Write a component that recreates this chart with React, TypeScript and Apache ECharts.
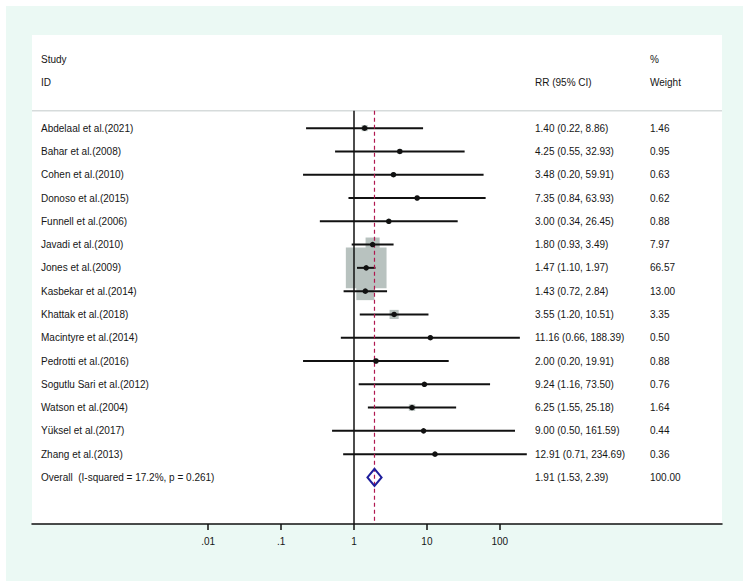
import React, { useEffect, useRef } from 'react';
import * as echarts from 'echarts';

// ---------- data ----------
const studies = [
  'Abdelaal et al.(2021)',
  'Bahar et al.(2008)',
  'Cohen et al.(2010)',
  'Donoso et al.(2015)',
  'Funnell et al.(2006)',
  'Javadi et al.(2010)',
  'Jones et al.(2009)',
  'Kasbekar et al.(2014)',
  'Khattak et al.(2018)',
  'Macintyre et al.(2014)',
  'Pedrotti et al.(2016)',
  'Sogutlu Sari et al.(2012)',
  'Watson et al.(2004)',
  'Yüksel et al.(2017)',
  'Zhang et al.(2013)',
];
const rr = [1.4, 4.25, 3.48, 7.35, 3.0, 1.8, 1.47, 1.43, 3.55, 11.16, 2.0, 9.24, 6.25, 9.0, 12.91];
const ciLow = [0.22, 0.55, 0.2, 0.84, 0.34, 0.93, 1.1, 0.72, 1.2, 0.66, 0.2, 1.16, 1.55, 0.5, 0.71];
const ciHigh = [8.86, 32.93, 59.91, 63.93, 26.45, 3.49, 1.97, 2.84, 10.51, 188.39, 19.91, 73.5, 25.18, 161.59, 234.69];
const weights = [1.46, 0.95, 0.63, 0.62, 0.88, 7.97, 66.57, 13.0, 3.35, 0.5, 0.88, 0.76, 1.64, 0.44, 0.36];

const overallLabel = 'Overall  (I-squared = 17.2%, p = 0.261)';
const overallRR = 1.91;
const overallLow = 1.53;
const overallHigh = 2.39;
const overallWeight = 100.0;

const tickValues = [0.01, 0.1, 1, 10, 100];
const tickLabels = ['.01', '.1', '1', '10', '100'];

// ---------- layout / style ----------
const FONT = '"Liberation Sans", Arial, Helvetica, sans-serif';
const TEXT_COLOR = '#161616';
const X_ONE = 354; // pixel of value 1
const DECADE = 72.9; // pixels per decade
const PANEL_L = 32;
const PANEL_R = 722;
const PANEL_T = 35;
const PANEL_B = 524;
const W = 749;
const H = 587;
const xMin = Math.pow(10, (PANEL_L - X_ONE) / DECADE);
const xMax = Math.pow(10, (PANEL_R - X_ONE) / DECADE);
const ROW_MIN = -4;
const ROW_MAX = 17;
const HEADER_ROW = -0.75;
const overallRow = studies.length;
const COL_NAME = 41;
const COL_RR = 535;
const COL_W = 650;

const fmt = (v: number) => v.toFixed(2);

function buildOption() {
  const squareData = rr.map((v, i) => [v, i, weights[i]]);
  const dotData = rr.map((v, i) => [v, i]);
  const ciData = rr.map((_, i) => [ciLow[i], ciHigh[i], i]);
  const textRows = studies.map((s, i) => ({
    name: s,
    rrText: `${fmt(rr[i])} (${fmt(ciLow[i])}, ${fmt(ciHigh[i])})`,
    wText: fmt(weights[i]),
  }));
  textRows.push({
    name: overallLabel,
    rrText: `${fmt(overallRR)} (${fmt(overallLow)}, ${fmt(overallHigh)})`,
    wText: fmt(overallWeight),
  });
  const textData = textRows.map((_, i) => [1, i]);

  const txt = (text: string, x: number, y: number) => ({
    type: 'text',
    x,
    y,
    style: {
      text,
      fill: TEXT_COLOR,
      fontSize: 10,
      fontFamily: FONT,
      align: 'left',
      verticalAlign: 'middle',
    },
  });

  return {
    animation: false,
    backgroundColor: '#ffffff',
    graphic: [
      {
        type: 'rect',
        z: -20,
        shape: { x: 6, y: 6, width: 737, height: 575 },
        style: { fill: '#ebf9f4' },
      },
      {
        type: 'rect',
        z: -19,
        shape: { x: PANEL_L, y: PANEL_T, width: PANEL_R - PANEL_L, height: PANEL_B - PANEL_T },
        style: { fill: '#ffffff' },
      },
      txt('Study', COL_NAME, 59),
      txt('ID', COL_NAME, 82),
      txt('RR (95% CI)', COL_RR, 82),
      txt('%', COL_W, 59),
      txt('Weight', COL_W, 82),
    ],
    grid: [
      { left: PANEL_L, right: W - PANEL_R, top: PANEL_T, bottom: H - PANEL_B },
      {
        left: X_ONE - 2 * DECADE,
        right: W - (X_ONE + 2 * DECADE),
        top: PANEL_T,
        bottom: H - PANEL_B,
      },
    ],
    xAxis: [
      {
        type: 'log',
        gridIndex: 0,
        logBase: 10,
        min: xMin,
        max: xMax,
        position: 'bottom',
        axisLine: { show: true, onZero: false, lineStyle: { color: '#111', width: 1.5 } },
        axisTick: { show: false },
        axisLabel: { show: false },
        splitLine: { show: false },
      },
      {
        type: 'log',
        gridIndex: 1,
        logBase: 10,
        min: tickValues[0],
        max: tickValues[tickValues.length - 1],
        position: 'bottom',
        axisLine: { show: false, onZero: false },
        axisTick: { show: true, length: 6, lineStyle: { color: '#111', width: 1.5 } },
        axisLabel: {
          fontSize: 10,
          fontFamily: FONT,
          color: TEXT_COLOR,
          margin: 12,
          formatter: (v: number) => {
            const idx = tickValues.findIndex((t) => Math.abs(Math.log10(t) - Math.log10(v)) < 1e-6);
            return idx >= 0 ? tickLabels[idx] : '';
          },
        },
        splitLine: { show: false },
      },
    ],
    yAxis: [
      { type: 'value', gridIndex: 0, inverse: true, min: ROW_MIN, max: ROW_MAX, show: false },
      { type: 'value', gridIndex: 1, min: 0, max: 1, show: false },
    ],
    series: [
      {
        type: 'line',
        silent: true,
        z: 1,
        symbol: 'none',
        data: [
          [xMin, HEADER_ROW],
          [xMax, HEADER_ROW],
        ],
        lineStyle: { color: '#d6dbdb', width: 1.5 },
      },
      {
        type: 'scatter',
        silent: true,
        z: 2,
        symbol: 'rect',
        symbolSize: (val: number[]) => 4.99 * Math.sqrt(val[2]),
        itemStyle: { color: '#b8c2bf', opacity: 1 },
        data: squareData,
      },
      {
        type: 'line',
        silent: true,
        z: 3,
        symbol: 'none',
        data: [
          [1, HEADER_ROW],
          [1, ROW_MAX],
        ],
        lineStyle: { color: '#111', width: 1.5 },
      },
      {
        type: 'custom',
        silent: true,
        z: 4,
        data: ciData,
        encode: { x: [0, 1], y: 2 },
        renderItem: (params: any, api: any) => {
          const p1 = api.coord([api.value(0), api.value(2)]);
          const p2 = api.coord([api.value(1), api.value(2)]);
          return {
            type: 'line',
            shape: { x1: p1[0], y1: p1[1], x2: p2[0], y2: p2[1] },
            style: { stroke: '#111', lineWidth: 2 },
          };
        },
      },
      {
        type: 'line',
        silent: true,
        z: 5,
        symbol: 'none',
        data: [
          [overallRR, HEADER_ROW],
          [overallRR, ROW_MAX],
        ],
        lineStyle: { color: '#b0174f', width: 1.2, type: [4, 3] },
      },
      {
        type: 'scatter',
        silent: true,
        z: 6,
        symbol: 'circle',
        symbolSize: 5.5,
        itemStyle: { color: '#111', opacity: 1 },
        data: dotData,
      },
      {
        type: 'custom',
        silent: true,
        z: 7,
        data: [[overallLow, overallRR, overallHigh, overallRow]],
        encode: { x: [0, 2], y: 3 },
        renderItem: (params: any, api: any) => {
          const row = api.value(3);
          const a = api.coord([api.value(0), row]);
          const c = api.coord([api.value(1), row]);
          const b = api.coord([api.value(2), row]);
          const h = 8.5;
          return {
            type: 'polygon',
            shape: { points: [a, [c[0], c[1] - h], b, [c[0], c[1] + h]] },
            style: { stroke: '#1f1f9c', fill: 'none', lineWidth: 2 },
          };
        },
      },
      {
        type: 'custom',
        silent: true,
        z: 8,
        data: textData,
        renderItem: (params: any, api: any) => {
          const i = params.dataIndex;
          const y = api.coord([1, api.value(1)])[1];
          const r = textRows[i];
          return {
            type: 'group',
            children: [txt(r.name, COL_NAME, y), txt(r.rrText, COL_RR, y), txt(r.wText, COL_W, y)],
          };
        },
      },
    ],
  };
}

export default function App() {
  const ref = useRef<HTMLDivElement>(null);
  useEffect(() => {
    if (!ref.current) return;
    const chart = echarts.init(ref.current, null, { renderer: 'svg' });
    chart.setOption(buildOption() as any);
    return () => chart.dispose();
  }, []);
  return (
    <div
      ref={ref}
      style={{ position: 'absolute', left: 0, top: 0, width: W, height: H }}
    />
  );
}
